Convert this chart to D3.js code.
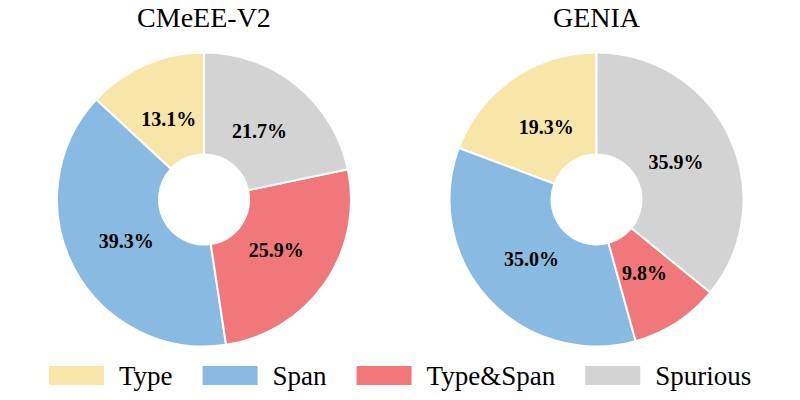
<!DOCTYPE html>
<html>
<head>
<meta charset="utf-8">
<script src="https://cdn.jsdelivr.net/npm/d3@7"></script>
<style>
  html, body { margin: 0; padding: 0; background: #fff; }
  svg { display: block; }
</style>
</head>
<body>
<svg id="chart" width="800" height="400"></svg>
<script>
const categories = ["Type", "Span", "Type&Span", "Spurious"];
const colors = ["#F8E6A8", "#89BAE2", "#F0777A", "#D3D3D3"];
const datasets = ["CMeEE-V2", "GENIA"];
const cmeeeValues = [13.1, 39.3, 25.9, 21.7];
const geniaValues = [19.3, 35.0, 9.8, 35.9];
const seriesValues = [cmeeeValues, geniaValues];

const svg = d3.select("#chart");
const font = "'Liberation Serif', 'Times New Roman', serif";

const centers = [[204, 199.5], [596.5, 199.5]];
const outerR = 147, innerR = 45, labelR = 88;

const pie = d3.pie().sort(null).value(d => d).startAngle(0).endAngle(-2 * Math.PI);
const arc = d3.arc().innerRadius(innerR).outerRadius(outerR);
const labelArc = d3.arc().innerRadius(labelR).outerRadius(labelR);
const color = d3.scaleOrdinal().domain(categories).range(colors);

seriesValues.forEach((vals, i) => {
  const g = svg.append("g").attr("transform", `translate(${centers[i][0]},${centers[i][1]})`);
  const arcs = pie(vals);
  g.selectAll("path").data(arcs).join("path")
    .attr("d", arc)
    .attr("fill", (d, j) => color(categories[j]))
    .attr("stroke", "#fff")
    .attr("stroke-width", 2)
    .attr("stroke-linejoin", "round");
  g.selectAll("text.pct").data(arcs).join("text")
    .attr("class", "pct")
    .attr("transform", d => `translate(${labelArc.centroid(d)})`)
    .attr("text-anchor", "middle")
    .attr("dominant-baseline", "central")
    .attr("font-family", font)
    .attr("font-weight", "bold")
    .attr("font-size", 20)
    .attr("fill", "#000")
    .text(d => d.data.toFixed(1) + "%");
  svg.append("text")
    .attr("x", centers[i][0])
    .attr("y", 27)
    .attr("text-anchor", "middle")
    .attr("font-family", font)
    .attr("font-size", 28)
    .attr("fill", "#000")
    .text(datasets[i]);
});

// Legend
const legend = svg.append("g");
let x = 49;
categories.forEach((c, i) => {
  legend.append("rect")
    .attr("x", x).attr("y", 366).attr("width", 55).attr("height", 19)
    .attr("fill", color(c));
  const t = legend.append("text")
    .attr("x", x + 70).attr("y", 385)
    .attr("font-family", font)
    .attr("font-size", 27)
    .attr("fill", "#000")
    .text(c);
  const w = t.node().getComputedTextLength();
  x = x + 70 + w + 30;
});
</script>
</body>
</html>
